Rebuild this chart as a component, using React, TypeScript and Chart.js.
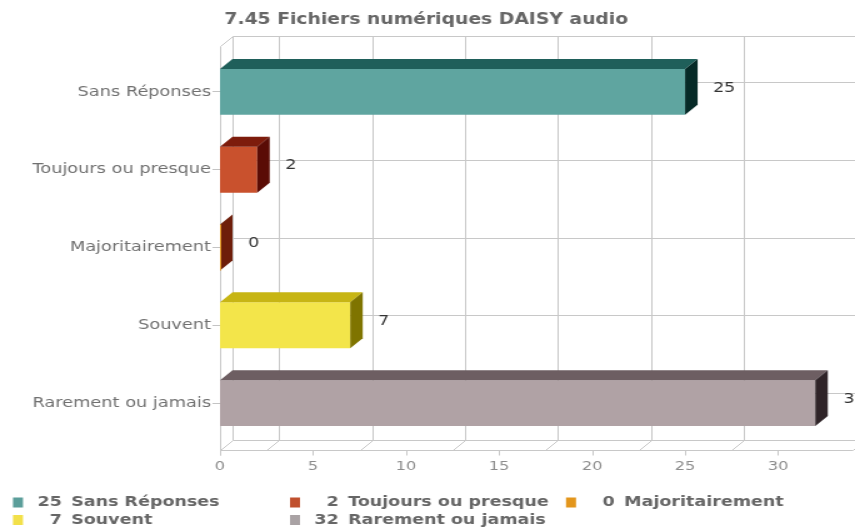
import React, { useEffect, useRef } from 'react';
import { Chart, registerables } from 'chart.js';

Chart.register(...registerables);

// ---- data ----
const TITLE = '7.45 Fichiers numériques DAISY audio';
const categories = ['Sans Réponses', 'Toujours ou presque', 'Majoritairement', 'Souvent', 'Rarement ou jamais'];
const counts = [25, 2, 0, 7, 32];
const axisMin = 0;
const axisMax = 34;
const tickStep = 5;

// ---- styles ----
const frontColors = ['#5fa5a0', '#c9512d', '#e3961c', '#f3e54a', '#b0a2a5'];
const topColors = ['#1f5f5a', '#7d1c0c', '#8a3a0c', '#c7b514', '#6d5e62'];
const sideColors = ['#062a27', '#5a0c05', '#6e1e0a', '#7f7400', '#2f2428'];
const legendColors = ['#5b9e9a', '#c0502e', '#e3961c', '#f2e04a', '#a9a2a4'];

const FONT = 'DejaVu Sans';
const W = 855;
const H = 530;
const STRETCH = 1.25;
const CW = Math.round(W / STRETCH);
const DX = 10;
const DY = 10;

const line = (ctx: CanvasRenderingContext2D, x1: number, y1: number, x2: number, y2: number) => {
  ctx.beginPath();
  ctx.moveTo(x1, y1);
  ctx.lineTo(x2, y2);
  ctx.stroke();
};

const poly = (ctx: CanvasRenderingContext2D, pts: number[][], color: string) => {
  ctx.beginPath();
  ctx.moveTo(pts[0][0], pts[0][1]);
  for (let i = 1; i < pts.length; i++) ctx.lineTo(pts[i][0], pts[i][1]);
  ctx.closePath();
  ctx.fillStyle = color;
  ctx.fill();
};

const box3d = {
  id: 'box3d',
  beforeDatasetsDraw(chart: any) {
    const { ctx, chartArea: a, scales } = chart;
    const x = scales.x;
    const y = scales.y;
    const x0 = Math.round(x.getPixelForValue(axisMin)) + 0.5;
    const xr = Math.round(x.getPixelForValue(axisMax)) + 0.5;
    const top = Math.round(a.top - 7) + 0.5;
    const bot = Math.round(a.bottom + 8) + 0.5;
    ctx.save();
    ctx.lineWidth = 1;
    ctx.strokeStyle = '#c8c8c8';
    line(ctx, x0 + DX, top - DY, chart.width, top - DY);
    line(ctx, x0 + DX, top - DY, x0 + DX, bot - DY);
    line(ctx, x0, top, x0, bot + 5);
    line(ctx, x0, top, x0 + DX, top - DY);
    line(ctx, x0, bot, x0 + DX, bot - DY);
    line(ctx, x0, bot, xr, bot);
    line(ctx, x0 + DX, bot - DY, chart.width, bot - DY);
    line(ctx, xr, bot, xr + DX, bot - DY);
    const ticks = x.ticks;
    for (let i = 0; i < ticks.length - 1; i++) {
      const m = (ticks[i].value + ticks[i + 1].value) / 2;
      const px = Math.round(x.getPixelForValue(m)) + 0.5;
      line(ctx, px + DX, top - DY, px + DX, bot - DY);
      line(ctx, px, bot, px + DX, bot - DY);
    }
    categories.forEach((_, i) => {
      const py = Math.round(y.getPixelForValue(i)) + 0.5;
      line(ctx, x0 + DX, py - DY, chart.width, py - DY);
    });
    ticks.forEach((t: any) => {
      const px = Math.round(x.getPixelForValue(t.value)) + 0.5;
      line(ctx, px, bot, px, bot + 5);
    });
    ctx.restore();
  },
  afterDatasetsDraw(chart: any) {
    const { ctx } = chart;
    const meta = chart.getDatasetMeta(0);
    const values = chart.data.datasets[0].data;
    ctx.save();
    meta.data.forEach((bar: any, i: number) => {
      const { x: xe, y: yc, base, height } = bar.getProps(['x', 'y', 'base', 'height'], true);
      const t = yc - height / 2;
      const b = yc + height / 2;
      poly(ctx, [[base, t], [xe, t], [xe + DX, t - DY], [base + DX, t - DY]], topColors[i]);
      poly(ctx, [[xe, t], [xe + DX, t - DY], [xe + DX, b - DY], [xe, b]], sideColors[i]);
      if (xe - base < 1) {
        ctx.strokeStyle = frontColors[i];
        ctx.lineWidth = 1;
        line(ctx, xe + 0.5, t, xe + 0.5, b);
      }
      ctx.fillStyle = '#333333';
      ctx.font = `14px "${FONT}"`;
      ctx.textAlign = 'left';
      ctx.textBaseline = 'middle';
      ctx.fillText(String(values[i]), xe + 22.4, yc - 4);
    });
    ctx.restore();
  },
  afterDraw(chart: any) {
    const { ctx } = chart;
    const cols = [10.4, 232, 452.8];
    const rows = [502.5, 520];
    ctx.save();
    ctx.font = `bold 14px "${FONT}"`;
    ctx.textBaseline = 'middle';
    counts.forEach((v, i) => {
      const sx = cols[i % 3];
      const cy = rows[Math.floor(i / 3)];
      ctx.fillStyle = legendColors[i];
      ctx.fillRect(sx, cy - 5, 8, 10);
      ctx.fillStyle = '#666666';
      ctx.textAlign = 'right';
      ctx.fillText(String(v), sx + 39, cy);
      ctx.textAlign = 'left';
      ctx.fillText(categories[i], sx + 46.5, cy);
    });
    ctx.restore();
  },
};

export default function App() {
  const ref = useRef<HTMLCanvasElement>(null);
  useEffect(() => {
    const chart = new Chart(ref.current as HTMLCanvasElement, {
      type: 'bar',
      data: {
        labels: categories,
        datasets: [
          {
            data: counts,
            backgroundColor: frontColors,
            borderWidth: 0,
            categoryPercentage: 1,
            barPercentage: 0.59,
          },
        ],
      },
      options: {
        indexAxis: 'y',
        responsive: false,
        animation: false,
        devicePixelRatio: 1,
        layout: { padding: { top: 0, left: 0, right: 2, bottom: 48 } },
        plugins: {
          legend: { display: false },
          tooltip: { enabled: false },
          title: {
            display: true,
            text: TITLE,
            color: '#666666',
            font: { family: FONT, size: 15, weight: 'bold' },
            padding: { top: 11.5, bottom: 23.5 },
          },
        },
        scales: {
          x: {
            type: 'linear',
            min: axisMin,
            max: axisMax,
            bounds: 'data',
            grid: { display: false, drawTicks: false },
            border: { display: false },
            ticks: {
              stepSize: tickStep,
              includeBounds: false,
              color: '#8c8c8c',
              font: { family: FONT, size: 13 },
              padding: 17.2,
            },
            afterBuildTicks: (s: any) => {
              s.ticks = s.ticks.filter((t: any) => t.value % tickStep === 0);
            },
            afterFit: (s: any) => {
              s.height = 40;
            },
          },
          y: {
            type: 'category',
            offset: true,
            grid: {
              display: true,
              drawOnChartArea: false,
              drawTicks: true,
              tickLength: 6,
              offset: false,
              color: '#c4c4c4',
            },
            border: { display: false },
            ticks: {
              color: '#707070',
              font: { family: FONT, size: 14.2 },
              padding: 1.2,
            },
            afterFit: (s: any) => {
              s.width = 176;
            },
          },
        },
      },
      plugins: [box3d],
    } as any);
    return () => chart.destroy();
  }, []);
  return (
    <div style={{ position: 'fixed', left: 0, top: 0, width: W, height: H, background: '#ffffff' }}>
      <canvas
        ref={ref}
        width={CW}
        height={H}
        style={{ width: `${W}px`, height: `${H}px`, display: 'block' }}
      />
    </div>
  );
}
